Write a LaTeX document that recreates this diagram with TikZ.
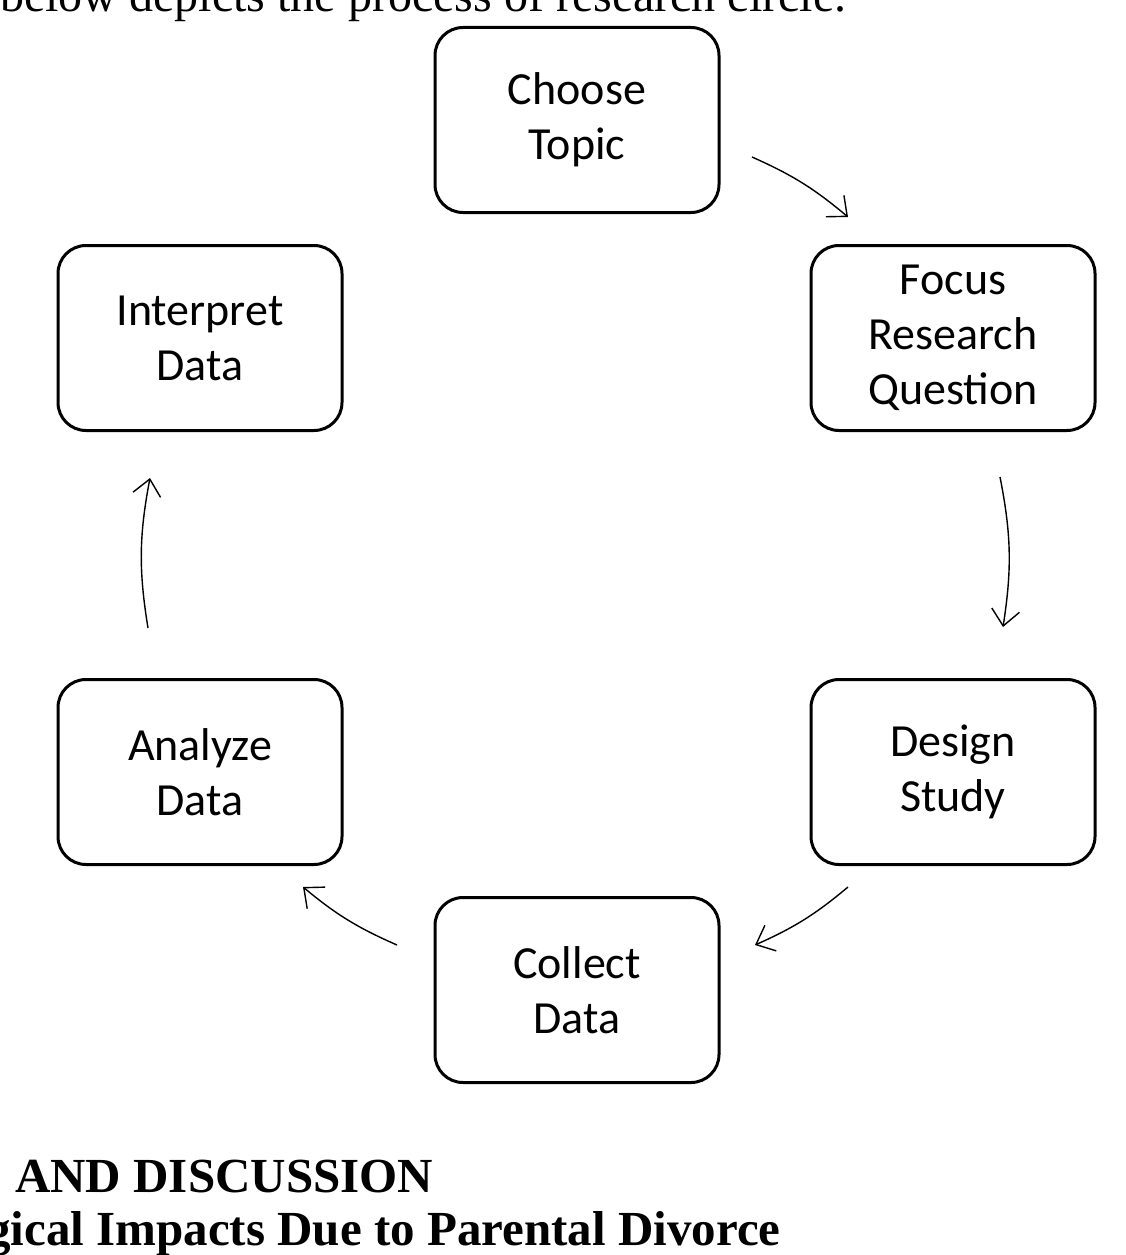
\documentclass[tikz,border=0pt]{standalone}
\usepackage{fontspec}
\setmainfont{Carlito}
\newfontfamily\serifx{Liberation Serif}
\usetikzlibrary{arrows.meta}
\begin{document}
\begin{tikzpicture}[x=1pt,y=-1pt,
  box/.style={draw,line width=3pt,rounded corners=28pt,minimum width=284pt,minimum height=185pt,align=center,font=\fontsize{46}{55}\selectfont},
  arr/.style={line width=1.4pt,-{Straight Barb[length=16pt,width=28pt,line width=1.4pt]}},
  body/.style={anchor=base west,inner sep=0pt,font=\serifx\fontsize{48}{50}\selectfont}]
\useasboundingbox (0,0) rectangle (1125,1255);
\clip (0,0) rectangle (1125,1255);
\node[body] (t1) at (0,12) {below depicts the process of research circle.};
\node[body,font=\serifx\bfseries\fontsize{49}{50}\selectfont] (t2) at (15,1192) {AND DISCUSSION};
\node[body,font=\serifx\bfseries\fontsize{49}{50}\selectfont] (t3) at (-14,1245) {gical Impacts Due to Parental Divorce};
\node[box] (a) at (577,120) {Choose\\Topic};
\node[box] (b) at (953,338) {Focus\\Research\\Question};
\node[box] (c) at (953,772) {Design\\Study};
\node[box] (d) at (577,990) {Collect\\Data};
\node[box] (e) at (200,772) {Analyze\\Data};
\node[box] (f) at (200,338) {Interpret\\Data};
\coordinate (a1) at (752,157); \coordinate (a2) at (848,217);
\coordinate (b1) at (1000,477); \coordinate (b2) at (1003,627);
\coordinate (c1) at (848,887); \coordinate (c2) at (755,945);
\coordinate (d1) at (397,945); \coordinate (d2) at (303,887);
\coordinate (e1) at (148,628); \coordinate (e2) at (150,478);
\draw[arr] (a1) to[bend left=8] (a2);
\draw[arr] (b1) to[bend left=10] (b2);
\draw[arr] (c1) to[bend left=8] (c2);
\draw[arr] (d1) to[bend left=8] (d2);
\draw[arr] (e1) to[bend left=10] (e2);
\end{tikzpicture}
\end{document}
